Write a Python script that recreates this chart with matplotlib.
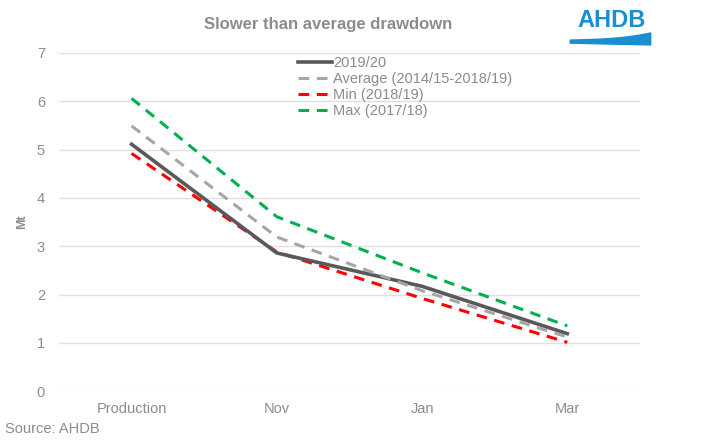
import numpy as np
import matplotlib.pyplot as plt
from matplotlib.patches import Polygon

plt.rcParams['font.family'] = ['Liberation Sans', 'DejaVu Sans']

# Dados
categorias = ['Production', 'Nov', 'Jan', 'Mar']
atual = [5.11, 2.86, 2.17, 1.19]
media = [5.49, 3.19, 2.08, 1.12]
minimo = [4.92, 2.88, 1.92, 1.01]
maximo = [6.06, 3.61, 2.45, 1.35]
rotulos = ['2019/20', 'Average (2014/15-2018/19)', 'Min (2018/19)', 'Max (2017/18)']

cinza_txt = '#8c8c8c'
azul = '#1a8fd0'

fig = plt.figure(figsize=(7.19, 4.45), dpi=100)
ax = fig.add_axes([0.082, 0.121, 0.808, 0.760])

x = np.arange(len(categorias))
ax.plot(x, atual, color='#595959', lw=2.6, label=rotulos[0], zorder=3)
ax.plot(x, media, color='#a6a6a6', lw=2.2, ls=(0, (3.5, 2.5)), label=rotulos[1], zorder=4)
ax.plot(x, minimo, color='#ff0000', lw=2.2, ls=(0, (3.5, 2.5)), label=rotulos[2], zorder=2)
ax.plot(x, maximo, color='#00b050', lw=2.2, ls=(0, (3.5, 2.5)), label=rotulos[3], zorder=2)

ax.set_xlim(-0.5, 3.5)
ax.set_ylim(0, 7)
ax.set_xticks(x)
ax.set_xticklabels(categorias)
ax.set_yticks(range(0, 8))
ax.grid(axis='y', color='#e0e0e0', lw=1)
ax.set_axisbelow(True)
for s in ax.spines.values():
    s.set_visible(False)
ax.tick_params(length=0, colors=cinza_txt, labelsize=10.5)
ax.tick_params(axis='x', pad=8)
ax.tick_params(axis='y', pad=10)
ax.set_ylabel('Mt', color=cinza_txt, fontsize=9, fontweight='bold', labelpad=6)

leg = ax.legend(loc='upper left', bbox_to_anchor=(0.402, 1.008), frameon=False,
                handlelength=2.3, handletextpad=0.1, labelspacing=0.14, fontsize=10.5,
                borderaxespad=0)
for t in leg.get_texts():
    t.set_color(cinza_txt)

fig.text(0.456, 0.945, 'Slower than average drawdown', ha='center', va='center',
         fontsize=12, fontweight='bold', color='#8c8c8c')
fig.text(0.007, 0.035, 'Source: AHDB', ha='left', va='center', fontsize=10.5, color=cinza_txt)

# logo
fig.text(0.850, 0.955, 'AHDB', ha='center', va='center', fontsize=17, color=azul,
         fontweight='bold')
t = np.linspace(0, 1, 40)
topo = 0.910 + 0.004 * t + 0.012 * t ** 3
base = 0.903 - 0.004 * t
xs = 0.793 + 0.112 * t
pts = np.vstack([np.column_stack([xs, topo]), np.column_stack([xs[::-1], base[::-1]])])
fig.patches.append(Polygon(pts, closed=True, transform=fig.transFigure, color=azul))

fig.savefig('out.png', dpi=100)
